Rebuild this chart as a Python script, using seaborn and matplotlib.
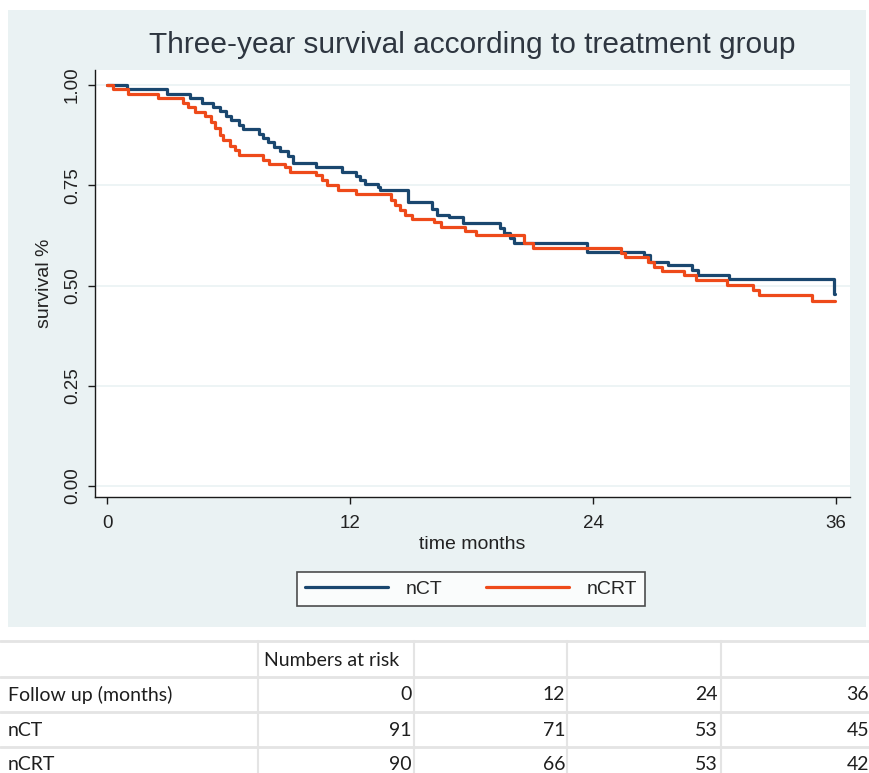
import matplotlib
matplotlib.use("Agg")
import matplotlib.pyplot as plt
from matplotlib.patches import Rectangle
from matplotlib.lines import Line2D
import seaborn as sns
import pandas as pd

# Kaplan-Meier step estimates (months, survival) per treatment group
nct_time = [0, 0.97, 2.95, 4.1, 4.7, 5.25, 5.6, 5.9, 6.1, 6.5, 6.7, 7.5, 7.7, 7.95,
            8.25, 8.55, 8.95, 9.2, 10.3, 11.6, 12.3, 12.5, 12.75, 13.4, 13.5, 14.85,
            16.05, 16.3, 16.9, 17.6, 19.4, 19.6, 19.9, 20.1, 23.7, 26.5, 26.8, 27.7,
            28.9, 29.2, 30.7, 35.9, 35.95]
nct_surv = [1.000, 0.989, 0.978, 0.967, 0.956, 0.945, 0.934, 0.923, 0.912, 0.901, 0.890,
            0.879, 0.868, 0.857, 0.846, 0.835, 0.824, 0.806, 0.795, 0.784, 0.774, 0.763,
            0.752, 0.745, 0.738, 0.709, 0.690, 0.676, 0.670, 0.655, 0.643, 0.630, 0.618,
            0.606, 0.584, 0.576, 0.559, 0.551, 0.539, 0.526, 0.515, 0.480, 0.480]

ncrt_time = [0, 0.3, 1.05, 2.5, 3.75, 4.0, 4.35, 4.85, 5.15, 5.33, 5.58, 5.75, 6.05,
             6.3, 6.5, 7.7, 8.0, 8.8, 9.05, 10.3, 10.6, 10.85, 11.4, 12.3, 14.0, 14.2,
             14.45, 14.7, 15.05, 16.15, 16.5, 17.7, 18.2, 20.6, 21.05, 25.4, 25.6, 26.7,
             27.0, 27.4, 28.5, 29.1, 30.6, 31.9, 32.2, 34.8, 35.95]
ncrt_surv = [1.000, 0.989, 0.978, 0.967, 0.956, 0.944, 0.933, 0.922, 0.908, 0.892, 0.875,
             0.863, 0.848, 0.837, 0.825, 0.813, 0.803, 0.795, 0.784, 0.775, 0.763, 0.751,
             0.738, 0.727, 0.713, 0.700, 0.688, 0.676, 0.667, 0.659, 0.647, 0.635, 0.626,
             0.605, 0.594, 0.580, 0.572, 0.559, 0.547, 0.535, 0.526, 0.514, 0.501, 0.489,
             0.476, 0.461, 0.461]

groups = ["nCT", "nCRT"]
colors = ["#1a476f", "#ee4a1a"]
x_ticks = [0, 12, 24, 36]
y_ticks = [0.00, 0.25, 0.50, 0.75, 1.00]

# Numbers-at-risk table
risk_header = "Numbers at risk"
followup_label = "Follow up (months)"
followup_months = [0, 12, 24, 36]
at_risk_nct = [91, 71, 53, 45]
at_risk_ncrt = [90, 66, 53, 42]

df = pd.concat([
    pd.DataFrame({"time": nct_time, "surv": nct_surv, "group": groups[0]}),
    pd.DataFrame({"time": ncrt_time, "surv": ncrt_surv, "group": groups[1]}),
], ignore_index=True)

sns.set_style("white")
plt.rcParams["font.family"] = ["Liberation Sans", "DejaVu Sans"]

W, H = 870, 773
fig = plt.figure(figsize=(W / 100, H / 100), dpi=100, facecolor="white")

def fx(px):
    return px / W

def fy(py):
    return 1 - py / H

# light graph region
fig.patches.append(Rectangle((fx(8), fy(627)), fx(866 - 8), (627 - 10) / H,
                             transform=fig.transFigure, facecolor="#eaf2f3",
                             edgecolor="none", zorder=-10))

ax = fig.add_axes([fx(95), fy(497), fx(850 - 95), (497 - 70) / H])
ax.set_facecolor("white")

sns.lineplot(data=df, x="time", y="surv", hue="group", hue_order=groups,
             palette=colors, drawstyle="steps-post", estimator=None,
             linewidth=2.3, ax=ax, legend=False)

ax.set_xlim(-0.593, 36.69)
ax.set_ylim(-0.0274, 1.0374)
ax.set_xticks(x_ticks)
ax.set_yticks(y_ticks)
ax.set_yticklabels([f"{v:.2f}" for v in y_ticks], rotation=90, va="center")
for v in y_ticks:
    ax.axhline(v, color="#eaf2f3", linewidth=1.2, zorder=0)

for s in ["top", "right"]:
    ax.spines[s].set_visible(False)
for s in ["left", "bottom"]:
    ax.spines[s].set_color("#1a1a1a")
    ax.spines[s].set_linewidth(1.0)

ax.tick_params(axis="both", direction="out", length=5, width=1, color="#1a1a1a",
               labelsize=13.5, labelcolor="#222222", left=True, bottom=True)
ax.tick_params(axis="x", pad=8)
ax.tick_params(axis="y", pad=5)

ax.set_xlabel("time months", fontsize=14, color="#222222", labelpad=3)
ax.set_ylabel("survival %", fontsize=14, color="#222222", labelpad=8)
ax.set_title("Three-year survival according to treatment group", fontsize=21.5,
             color="#2e3640", pad=12)

handles = [Line2D([0], [0], color=c, linewidth=2.3) for c in colors]
leg = fig.legend(handles, groups, loc="center", bbox_to_anchor=(fx(471), fy(589)),
                 ncol=2, frameon=True, fancybox=False, fontsize=14,
                 handlelength=4.3, columnspacing=2.2, handletextpad=0.9,
                 borderpad=0.4)
leg.get_frame().set_edgecolor("#222222")
leg.get_frame().set_linewidth(1.2)
leg.get_frame().set_facecolor("white")

# numbers-at-risk table
table_font = ["Lato", "DejaVu Sans"]
line_col = "#e4e4e4"
for py in [641, 677, 712, 747]:
    fig.add_artist(Line2D([fx(0), fx(870)], [fy(py), fy(py)], color=line_col,
                          linewidth=2, transform=fig.transFigure))
for px in [258, 414, 567, 721]:
    fig.add_artist(Line2D([fx(px), fx(px)], [fy(641), fy(773)], color=line_col,
                          linewidth=1.5, transform=fig.transFigure))

row_y = [660, 695, 730, 765]
col_right = [412, 565, 718, 869]
txt_kw = dict(fontsize=14, color="#1e1e1e", family=table_font, va="center")
fig.text(fx(264), fy(row_y[0]), risk_header, ha="left", **txt_kw)
fig.text(fx(8), fy(row_y[1]), followup_label, ha="left", **txt_kw)
fig.text(fx(8), fy(row_y[2]), groups[0], ha="left", **txt_kw)
fig.text(fx(8), fy(row_y[3]), groups[1], ha="left", **txt_kw)
for vals, ry in [(followup_months, row_y[1]), (at_risk_nct, row_y[2]),
                 (at_risk_ncrt, row_y[3])]:
    for v, cx in zip(vals, col_right):
        fig.text(fx(cx), fy(ry), str(v), ha="right", **txt_kw)

fig.savefig("out.png", dpi=100, facecolor="white")
